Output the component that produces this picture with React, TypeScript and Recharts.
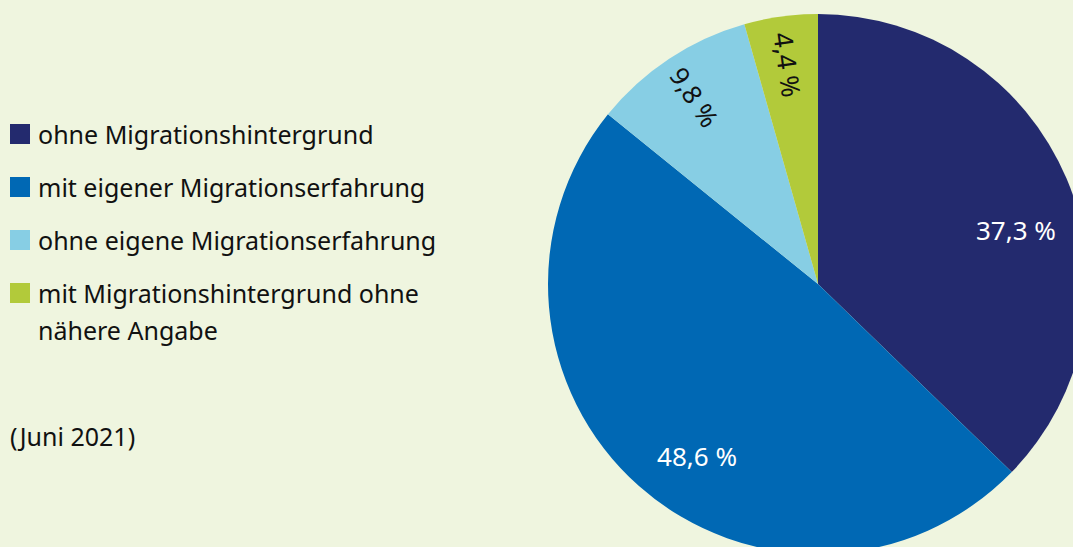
import React from 'react';
import { PieChart, Pie, Cell } from 'recharts';

const CATEGORIES = [
  'ohne Migrationshintergrund',
  'mit eigener Migrationserfahrung',
  'ohne eigene Migrationserfahrung',
  'mit Migrationshintergrund ohne nähere Angabe',
];
const SHARES = [37.3, 48.6, 9.8, 4.4];
const LABELS = ['37,3 %', '48,6 %', '9,8 %', '4,4 %'];
const NOTE = '(Juni 2021)';

const COLORS = ['#232a6e', '#0068b4', '#87cee4', '#b2ca3a']; // navy, blue, light blue, green
const LABEL_COLORS = ['#ffffff', '#ffffff', '#111111', '#111111'];
const BG = '#eff5df';
const FONT = '"Noto Sans", "Open Sans", sans-serif';

// small slices get radial text, the big ones stay horizontal
const ROTATED = [false, false, true, true];
const ANGLE_NUDGE = [-7.6, 6.5, 0, 0];
const LABEL_RADIUS = [0.76, 0.78, 0.83, 0.82];

const data = CATEGORIES.map((name, i) => ({ name, value: SHARES[i] }));

const RAD = Math.PI / 180;

const renderLabel = (props: any) => {
  const { cx, cy, midAngle, outerRadius, index } = props;
  const a = midAngle + ANGLE_NUDGE[index];
  const r = outerRadius * LABEL_RADIUS[index];
  const x = cx + r * Math.cos(-a * RAD);
  const y = cy + r * Math.sin(-a * RAD);
  const rot = ROTATED[index]
    ? Math.atan2(Math.sin(a * RAD), -Math.cos(a * RAD)) / RAD
    : 0;
  return (
    <text
      x={x}
      y={y}
      fill={LABEL_COLORS[index]}
      fontSize={26}
      fontFamily={FONT}
      textAnchor="middle"
      dominantBaseline="central"
      transform={`rotate(${rot} ${x} ${y})`}
    >
      {LABELS[index]}
    </text>
  );
};

const LegendBlock = () => (
  <div
    style={{
      position: 'absolute',
      left: 10,
      top: 116,
      width: 450,
      fontFamily: FONT,
      fontSize: 25,
      color: '#111',
      lineHeight: '37px',
    }}
  >
    {CATEGORIES.map((c, i) => (
      <div key={c} style={{ display: 'flex', alignItems: 'flex-start', marginBottom: 16 }}>
        <span
          style={{
            display: 'inline-block',
            width: 20,
            height: 20,
            background: COLORS[i],
            marginTop: 8,
            marginRight: 8,
            flexShrink: 0,
          }}
        />
        <span style={{ width: 420 }}>
          {i === 3 ? (
            <>
              mit Migrationshintergrund ohne
              <br />
              nähere Angabe
            </>
          ) : (
            c
          )}
        </span>
      </div>
    ))}
    <div style={{ marginTop: 69 }}>{NOTE}</div>
  </div>
);

export default function App() {
  return (
    <div
      style={{
        position: 'fixed',
        left: 0,
        top: 0,
        width: 1073,
        height: 547,
        background: BG,
        overflow: 'hidden',
      }}
    >
      <PieChart width={1073} height={547} margin={{ top: 0, right: 0, bottom: 0, left: 0 }}>
        <Pie
          data={data}
          dataKey="value"
          nameKey="name"
          cx={818}
          cy={284}
          outerRadius={270}
          startAngle={90}
          endAngle={-270}
          stroke="none"
          label={renderLabel}
          labelLine={false}
          isAnimationActive={false}
        >
          {data.map((d, i) => (
            <Cell key={`cell-${i}`} fill={COLORS[i]} />
          ))}
        </Pie>
      </PieChart>
      <LegendBlock />
    </div>
  );
}
